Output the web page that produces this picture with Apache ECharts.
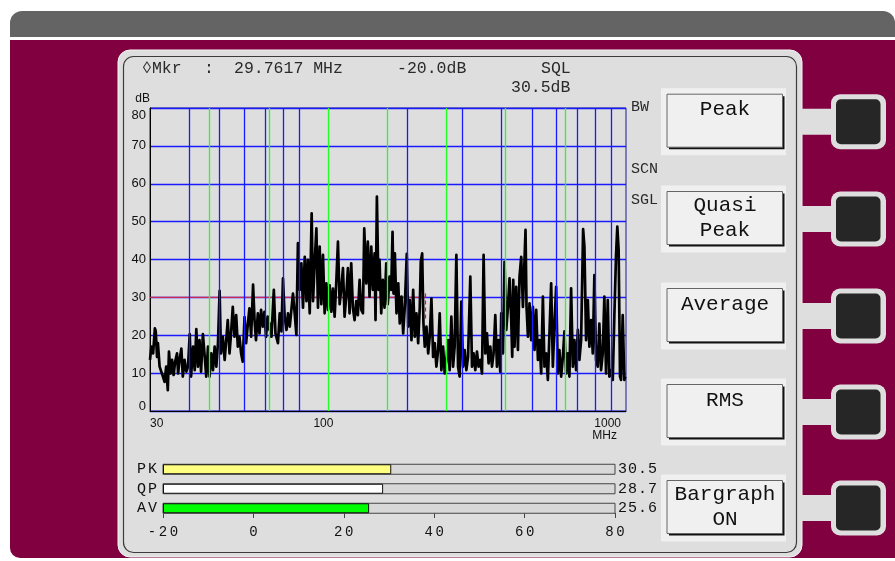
<!DOCTYPE html>
<html>
<head>
<meta charset="utf-8">
<style>
  html, body { margin: 0; padding: 0; background: #fff; }
  #main { width: 895px; height: 561px; }
</style>
<script src="https://cdn.jsdelivr.net/npm/echarts@6/dist/echarts.min.js"></script>
</head>
<body>
<div id="main"></div>
<script>
// spectrum trace (MHz / dB), low-high zigzag of the noisy band
const traceMHz = [
  30.0, 30.3, 30.7, 31.1, 31.3, 31.6, 31.8, 32.2, 32.6, 33.0, 33.4, 33.8, 34.2, 34.5, 34.9, 35.3, 35.7, 36.1, 36.6, 36.9,
  37.3, 37.8, 38.2, 38.7, 39.2, 39.7, 40.2, 40.6, 41.2, 41.7, 42.2, 42.7, 43.2, 43.7, 44.3, 44.9, 45.4, 46.0, 46.5, 47.1,
  47.7, 48.3, 48.9, 49.5, 50.1, 50.6, 51.3, 52.0, 52.6, 53.2, 53.9, 54.5, 55.2, 55.9, 56.6, 57.3, 58.0, 58.7, 59.4, 60.2,
  60.9, 61.7, 62.4, 63.2, 64.1, 64.8, 65.5, 66.4, 67.2, 68.0, 68.9, 69.7, 70.5, 71.4, 72.3,
  72.5, 73.4, 74.7, 75.6, 77.0, 78.0, 79.0, 79.9, 80.9, 82.0, 82.9, 84.0, 85.0, 86.0, 87.1, 88.2, 89.2, 90.4, 91.5, 92.6,
  93.8, 95.0, 96.0, 97.3, 98.7, 99.7, 100.9, 102.2, 103.4, 104.7, 106.0, 107.3, 108.6, 110.0, 111.3, 112.7, 114.1, 115.5, 116.9, 118.4,
  119.8, 121.3, 122.8, 124.3, 125.8, 127.5, 128.9, 130.5, 132.1, 133.7, 135.4, 137.1, 138.7, 140.5, 142.3, 144.0, 145.4, 147.6, 149.3, 151.2,
  153.1, 154.9, 156.9, 158.0, 159.6, 161.5, 162.7, 164.8, 166.7, 168.8, 171.0, 172.9, 175.2, 177.4,
  179.1, 180.4, 182.2, 184.4, 186.8, 188.9, 191.3, 193.7, 196.0, 198.9, 201.0, 203.3, 205.9, 208.5, 211.0, 213.6, 216.3, 218.9, 220.5, 222.8,
  224.9, 227.1, 229.9, 232.9, 235.5, 238.5, 241.5, 244.4, 247.4, 250.6, 253.5, 256.6, 259.9, 263.0, 266.3, 269.6, 272.8, 276.2, 279.7, 283.0,
  286.6, 290.2, 293.6, 297.3, 301.1, 304.7, 308.5, 312.4, 317.6, 321.6, 325.4, 329.5, 333.6, 337.6, 341.9, 346.2, 350.3, 354.7, 359.1, 363.4,
  368.0, 372.6, 377.0, 381.8, 386.5, 391.1, 396.0, 398.9, 404.0, 408.7, 413.9, 419.1, 424.0, 429.4, 432.5, 435.8, 439.9, 445.4, 451.1, 456.4,
  462.1, 468.0, 473.5, 477.0, 480.6, 485.6, 491.3, 497.5, 503.7, 509.7, 516.1, 522.7, 528.7, 535.3, 542.1, 548.5, 555.4, 562.4, 569.0, 576.2,
  583.5, 590.4, 597.8, 605.4, 612.4, 620.1, 628.0, 635.4, 643.4, 651.6, 659.1, 667.4, 675.9, 683.9, 692.4, 701.2, 709.5, 718.4, 729.1, 736.1,
  745.3, 754.8, 763.6, 773.2, 782.9, 792.2, 802.1, 812.3, 821.8, 832.1, 842.6, 852.6, 863.3, 874.3, 884.5, 895.7, 907.0, 917.7, 929.2, 938.0,
  947.2, 956.9, 964.0, 976.1, 987.7, 995
];
const traceDb = [
  13.5, 17, 15.2, 21.8, 21, 14.3, 17.9, 11.7, 10.4, 9.1, 7.7, 11.7, 5.5, 15.7, 9.9, 13.5, 9.5, 13, 15.2, 9.9,
  13.5, 16.5, 9.1, 13.5, 10.4, 11.7, 20.3, 9.1, 17, 10.8, 21.6, 11.7, 18.7, 10.4, 20.3, 14.3, 9.1, 17, 9.1, 15.2,
  10.8, 17, 11.7, 17.9, 31.7, 15.2, 19.6, 13.5, 18.7, 24, 15.2, 20.5, 27.5, 19.6, 25.3, 17, 19.6, 15.2, 13, 24.8,
  17.9, 23.1, 27.1, 19.6, 33.4, 24, 18.7, 25.8, 20.5, 26.7, 22.3, 26.2, 19.6, 24.9, 21.4,
  23.1, 19.6, 32, 20.5, 17.9, 25.8, 21, 35, 24.9, 21.4, 25.8, 22.3, 26.7, 31, 25.8, 20.1, 44.3, 32, 39, 27.3,
  40.7, 29, 39.9, 25.8, 52.2, 29, 39, 48.2, 27.3, 43.4, 28.2, 41.2, 25.8, 33.7, 26.7, 33.2, 26.2, 32.3, 24.9, 34.6,
  44.7, 28.2, 32.3, 37.7, 24.9, 31, 37.7, 25.8, 39, 27.3, 24, 29, 25.3, 34.6, 26.7, 25.8, 48.2, 33.7, 44.7, 30.2,
  43.4, 32, 41.6, 24, 56.6, 32, 39.9, 25.8, 34.6, 27.3, 39, 28.2, 35.5, 32,
  47.3, 31, 41.6, 25.8, 33.7, 23.1, 30.2, 20.5, 27.5, 41.5, 22.3, 29.3, 18.7, 32, 19.6, 25.8, 17.9, 27.5, 39.4, 41.6,
  23.1, 17, 22.3, 15.2, 19.6, 29.7, 14.3, 17.9, 11.7, 16.1, 25.8, 10.8, 17, 9.9, 13.5, 18.7, 10.8, 24.9, 11.7, 17,
  41.2, 11.7, 9.1, 28.9, 11.7, 16.1, 10.8, 14.3, 35.5, 11.7, 15.2, 10.8, 15.7, 11.7, 13.5, 9.9, 41.2, 15.2, 20.5, 12.6,
  17, 11.7, 15.2, 25.3, 11.7, 18.7, 10.4, 25.8, 15.2, 39.4, 21.4, 27.5, 35, 24, 14.3, 34.6, 17, 32.8, 16.1, 35.5,
  40.7, 27.5, 39.9, 47.8, 27.5, 19.6, 28.4, 18.7, 27.5, 16.1, 26.7, 13.5, 18.7, 9.9, 30.2, 11.7, 15.2, 8.2, 20.5, 33.7,
  11.7, 23.1, 32.8, 9.9, 16.1, 9.1, 14.3, 21, 9.9, 15.2, 9.1, 32.4, 11.7, 18.7, 10.8, 21.4, 13.5, 18.7, 48, 43.4,
  18.7, 29.3, 17, 24, 15.2, 35.9, 13.5, 11.7, 23.1, 10.8, 15.2, 30.2, 9.9, 29.3, 9.1, 10.8, 8.2, 24.9, 41.2, 48.7,
  42.5, 9.1, 8.2, 25.3, 8.2, 9.1
];

// frequency gridlines (blue) and sub-range marks (green)
const blueLinesMHz = [40, 50, 60, 70, 80, 90, 200, 300, 400, 500, 600, 700, 800, 900];
const greenLinesMHz = [46.4, 72.1, 111.3, 172.3, 266.9, 411.7, 638.7];

// squelch line and its drop marker
const sqlLineMHz = [30, 228.3];
const sqlLevelDb = 30;
const sqlDropDb = [31, 24];

// bargraph
const barNames = ['PK', 'QP', 'AV'];
const barValues = [30.5, 28.7, 25.6];
const barColors = ['#ffff80', '#ffffff', '#00ff00'];
const barAxisMin = -20;
const barAxisMax = 80;

// softkeys
const buttonLabels = [['Peak'], ['Quasi', 'Peak'], ['Average'], ['RMS'], ['Bargraph', 'ON']];
const buttonCenters = [121.7, 219, 316, 412, 508];

const mono = '"Liberation Mono", "DejaVu Sans Mono", monospace';
const sans = '"Liberation Sans", Arial, sans-serif';

function cells(str, key) {
  return String(str).split('').map(function (c) { return '{' + key + '|' + c + '}'; }).join('');
}

var elements = [
  { type: 'rect', z: -10, shape: { x: 10, y: 11, width: 885, height: 26, r: [12, 12, 0, 0] }, style: { fill: '#646464' } },
  { type: 'rect', z: -10, shape: { x: 10, y: 40, width: 885, height: 518, r: [0, 0, 0, 10] }, style: { fill: '#800040' } },
  { type: 'rect', z: -9, shape: { x: 118, y: 50, width: 684, height: 507, r: 12 }, style: { fill: '#dedede', stroke: '#f4f4f4', lineWidth: 1 } },
  { type: 'rect', z: -8, shape: { x: 123.5, y: 56.5, width: 673, height: 496, r: 10 }, style: { fill: 'none', stroke: '#3c3c3c', lineWidth: 1.2 } }
];

buttonCenters.forEach(function (cy, i) {
  elements.push({ type: 'rect', z: -9, shape: { x: 800, y: cy - 13, width: 36, height: 26 }, style: { fill: '#dedede' } });
  elements.push({ type: 'rect', z: -9, shape: { x: 831, y: cy - 27.5, width: 55, height: 55, r: 9 }, style: { fill: '#dedede' } });
  elements.push({ type: 'rect', z: -8, shape: { x: 836, y: cy - 22.5, width: 44.5, height: 45, r: 5 }, style: { fill: '#262626' } });
  elements.push({ type: 'rect', z: -8, shape: { x: 661, y: cy - 33.5, width: 125, height: 67 }, style: { fill: '#f0f0f0' } });
  elements.push({ type: 'rect', z: -7, shape: { x: 669, y: cy - 25.5, width: 115.5, height: 53 }, style: { fill: '#111' } });
  elements.push({ type: 'rect', z: -6, shape: { x: 667, y: cy - 27.5, width: 115.5, height: 53 }, style: { fill: '#f0f0f0', stroke: '#666', lineWidth: 1 } });
  var lines = buttonLabels[i];
  var ys = lines.length === 1 ? [cy - 12] : [cy - 13.5, cy + 11];
  lines.forEach(function (t, k) {
    elements.push({ type: 'text', z: 5, x: 725, y: ys[k], style: { text: t, fill: '#111', font: '21px ' + mono, textAlign: 'center', textVerticalAlign: 'middle' } });
  });
});

[
  ['\u25CAMkr', 142, 69], [':', 204, 69], ['29.7617 MHz', 234, 69], ['-20.0dB', 397, 69],
  ['SQL', 541, 69], ['30.5dB', 511, 88]
].forEach(function (t) {
  elements.push({ type: 'text', z: 5, x: t[1], y: t[2], style: { text: t[0], fill: '#2a2a2a', font: '16.5px ' + mono, textVerticalAlign: 'middle' } });
});
[['BW', 107], ['SCN', 169], ['SGL', 200]].forEach(function (t) {
  elements.push({ type: 'text', z: 5, x: 631, y: t[1], style: { text: t[0], fill: '#2a2a2a', font: '15px ' + mono, textVerticalAlign: 'middle' } });
});

var gridMarks = blueLinesMHz.map(function (f) {
  return { xAxis: f, lineStyle: { color: '#1a1aff', width: 1.3, type: 'solid' } };
}).concat(greenLinesMHz.map(function (f) {
  return { xAxis: f, lineStyle: { color: '#22ff22', width: 1.3, type: 'solid' } };
})).concat([[
  { coord: [sqlLineMHz[1], sqlDropDb[0]], lineStyle: { color: '#c8107a', width: 1.2, type: [4, 3] } },
  { coord: [sqlLineMHz[1], sqlDropDb[1]] }
]]);

var chart = echarts.init(document.getElementById('main'));
chart.setOption({
  backgroundColor: '#ffffff',
  animation: false,
  graphic: { elements: elements },
  grid: [
    { left: 150, top: 108, width: 476, height: 303, show: true, borderColor: '#1c1c8c', borderWidth: 1, backgroundColor: 'transparent' },
    { left: 163, top: 459.5, width: 452, height: 58.5 }
  ],
  xAxis: [
    {
      type: 'log', gridIndex: 0, logBase: 10, min: 30, max: 1000,
      name: 'MHz', nameLocation: 'end', nameGap: -9,
      nameTextStyle: { align: 'right', verticalAlign: 'top', padding: [19, 0, 0, 0], fontFamily: sans, fontSize: 12, color: '#111' },
      axisLine: { lineStyle: { color: '#000', width: 1 } },
      axisTick: { show: false },
      splitLine: { show: false },
      axisLabel: {
        fontFamily: sans, fontSize: 12, color: '#111', margin: 7, align: 'left', alignMaxLabel: 'right',
        formatter: function (v) { var s = String(Math.round(v)); return v > 999 ? '{mx|' + s + '}' : s; },
        rich: { mx: { padding: [0, 5, 0, 0] } }
      }
    },
    {
      type: 'value', gridIndex: 1, min: 0, max: barAxisMax - barAxisMin, interval: 20,
      axisLine: { show: false },
      axisTick: { show: true, inside: true, length: 5, lineStyle: { color: '#444' } },
      splitLine: { show: false },
      axisLabel: {
        fontFamily: mono, fontSize: 14, color: '#111', margin: 7,
        formatter: function (v) { return cells(v + barAxisMin, 'b'); },
        rich: { b: { width: 11 } }
      }
    }
  ],
  yAxis: [
    {
      type: 'value', gridIndex: 0, min: 0, max: 80, interval: 10,
      name: 'dB', nameLocation: 'end', nameGap: 9,
      nameTextStyle: { align: 'right', verticalAlign: 'middle', fontFamily: sans, fontSize: 12, color: '#111' },
      axisLine: { show: true, lineStyle: { color: '#000', width: 1 } },
      axisTick: { show: false },
      splitLine: { lineStyle: { color: '#1a1aff', width: 1.3 } },
      axisLabel: {
        fontFamily: sans, fontSize: 13, color: '#111', margin: 4,
        formatter: function (v) { return v === 80 ? '{hi|80}' : v === 0 ? '{lo|0}' : String(v); },
        rich: { hi: { padding: [14, 0, 0, 0] }, lo: { padding: [0, 0, 9, 0] } }
      }
    },
    {
      type: 'category', gridIndex: 1, data: barNames, inverse: true,
      axisLine: { show: false }, axisTick: { show: false },
      axisLabel: {
        interval: 0, fontFamily: mono, fontSize: 15, color: '#111', margin: 6,
        formatter: function (v) { return cells(v, 'n'); },
        rich: { n: { width: 11 } }
      }
    },
    {
      type: 'category', gridIndex: 1, data: barNames, inverse: true, position: 'right',
      axisLine: { show: false }, axisTick: { show: false },
      axisLabel: {
        interval: 0, fontFamily: mono, fontSize: 15, color: '#111', margin: 3,
        formatter: function (v, i) { return cells(barValues[i].toFixed(1), 'v'); },
        rich: { v: { width: 10 } }
      }
    }
  ],
  series: [
    {
      name: 'SQL', type: 'line', xAxisIndex: 0, yAxisIndex: 0, z: 2, silent: true,
      data: sqlLineMHz.map(function (f) { return [f, sqlLevelDb]; }),
      showSymbol: false,
      lineStyle: { color: '#c8285a', width: 1.3 },
      markLine: { silent: true, symbol: ['none', 'none'], label: { show: false }, data: gridMarks }
    },
    {
      name: 'Trace', type: 'line', xAxisIndex: 0, yAxisIndex: 0, z: 4, silent: true,
      data: traceMHz.map(function (f, i) { return [f, traceDb[i]]; }),
      showSymbol: false,
      lineStyle: { color: '#000', width: 2.7, join: 'round' }
    },
    {
      name: 'Bargraph', type: 'bar', xAxisIndex: 1, yAxisIndex: 1, silent: true,
      barWidth: 10,
      showBackground: true,
      backgroundStyle: { color: '#d8d8d8', borderColor: '#444', borderWidth: 1 },
      itemStyle: { borderColor: '#111', borderWidth: 1 },
      data: barValues.map(function (v, i) {
        return { value: v - barAxisMin, itemStyle: { color: barColors[i] } };
      })
    }
  ]
});
window.addEventListener('resize', function () { chart.resize(); });
</script>
</body>
</html>
